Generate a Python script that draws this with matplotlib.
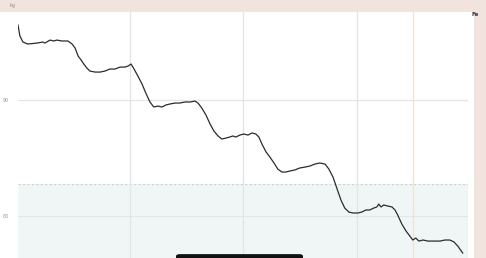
import matplotlib.pyplot as plt
from matplotlib.patches import Rectangle, FancyBboxPatch

# jours depuis le debut et poids releves
jours = [0, 0.5, 1.3, 2.6, 5.0, 6.6, 7.1, 8.5, 9.5, 10.3, 11.6, 13.2, 14.3, 15.1, 15.9,
         16.7, 17.4, 18.2, 19.0, 20.4, 21.7, 23.0, 24.3, 25.6, 27.0, 28.3, 29.1, 29.9,
         30.7, 31.7, 32.8, 33.8, 34.9, 35.9, 37.0, 38.1, 39.1, 40.2, 41.5, 42.8, 44.1,
         45.5, 46.8, 47.6, 48.6, 49.7, 50.8, 51.8, 52.9, 53.9, 55.0, 56.0, 56.8, 57.6,
         58.7, 59.7, 60.8, 61.9, 62.9, 63.7, 64.5, 65.6, 66.6, 67.7, 68.7, 69.8, 70.8,
         71.9, 73.2, 74.5, 75.9, 77.2, 78.5, 79.8, 81.2, 82.2, 83.3, 84.3, 85.4, 86.4,
         87.5, 88.6, 89.9, 90.9, 92.0, 93.0, 94.1, 94.9, 95.4, 96.0, 96.7, 97.8, 98.9,
         99.7, 100.4, 101.5, 102.6, 103.6, 104.4, 105.2, 106.0, 107.1, 108.4, 109.7,
         111.6, 112.9, 114.2, 115.3, 116.3, 117.6]
poids = [96.47, 95.52, 95.0, 94.83, 94.91, 95.0, 94.91, 95.17, 95.09, 95.17, 95.09, 95.09,
         94.83, 94.48, 93.79, 93.45, 93.10, 92.76, 92.50, 92.41, 92.41, 92.50, 92.67, 92.67,
         92.84, 92.84, 92.93, 93.10, 92.67, 92.07, 91.38, 90.60, 89.83, 89.40, 89.48, 89.40,
         89.57, 89.66, 89.74, 89.74, 89.83, 89.83, 89.91, 89.74, 89.31, 88.71, 87.93, 87.33,
         86.90, 86.64, 86.72, 86.81, 86.90, 86.81, 86.98, 87.07, 86.98, 87.16, 87.07, 86.81,
         86.21, 85.52, 85.09, 84.57, 84.05, 83.79, 83.79, 83.88, 83.97, 84.14, 84.22, 84.31,
         84.48, 84.57, 84.48, 84.05, 83.36, 82.41, 81.38, 80.69, 80.34, 80.26, 80.26, 80.34,
         80.52, 80.52, 80.69, 80.78, 81.03, 80.78, 80.95, 80.86, 80.78, 80.52, 80.09, 79.31,
         78.71, 78.28, 77.93, 78.10, 77.84, 77.93, 77.84, 77.84, 77.84, 77.93, 77.93, 77.76,
         77.41, 76.81]

objectif = 82.76
graduations_y = [90, 80]
etiquettes_y = ["90", "80"]
lignes_mois = [29.6, 59.5, 89.6]
ligne_orange = 104.4

fig = plt.figure(figsize=(4.86, 2.58), dpi=100)
fig.patch.set_facecolor("#f1e3dd")

# panneau blanc
fig.patches.append(Rectangle((0, 0), 474 / 486, 1 - 12 / 258, transform=fig.transFigure,
                             facecolor="white", edgecolor="none", zorder=-1))

ax = fig.add_axes([18 / 486, 0, 450 / 486, 1 - 12 / 258])
ax.set_zorder(2)
ax.set_facecolor("none")
ax.set_xlim(0, 119)
ax.set_ylim(76.38, 97.59)

ax.axhspan(ax.get_ylim()[0], objectif, color="#f0f6f6", zorder=0, lw=0)
ax.axhline(objectif, color="#c9d3d3", lw=0.8, ls=(0, (2, 2)), zorder=1)

for g in graduations_y:
    ax.axhline(g, color="#e4e6e6", lw=0.9, zorder=1)
for d in lignes_mois:
    ax.axvline(d, color="#e2e4e4", lw=0.9, zorder=1)
ax.axvline(ligne_orange, color="#f5e2c6", lw=0.9, zorder=1)
ax.axvline(119, color="#e2e2e2", lw=0.9, zorder=1)

ax.plot(jours, poids, color="#2b2b2b", lw=0.9, zorder=3)

for g, t in zip(graduations_y, etiquettes_y):
    ax.text(-3.2, g, t, ha="center", va="center", fontsize=3.5, color="#9a9a9a", clip_on=False)

ax.set_xticks([])
ax.set_yticks([])
for s in ax.spines.values():
    s.set_visible(False)

fig.text(12 / 486, 1 - 5 / 258, "kg", fontsize=3.5, color="#8a8a8a", ha="center", va="center")
fig.text(475 / 486, 1 - 15 / 258, "Fe", fontsize=4, color="#333333", ha="center", va="center",
         fontweight="bold")

# barre d'accueil
fig.patches.append(FancyBboxPatch((176 / 486, -0.01), 127 / 486, 0.025, transform=fig.transFigure,
                                  boxstyle="round,pad=0,rounding_size=0.008",
                                  facecolor="#111111", edgecolor="none", zorder=5))

fig.savefig("out.png", dpi=100)
